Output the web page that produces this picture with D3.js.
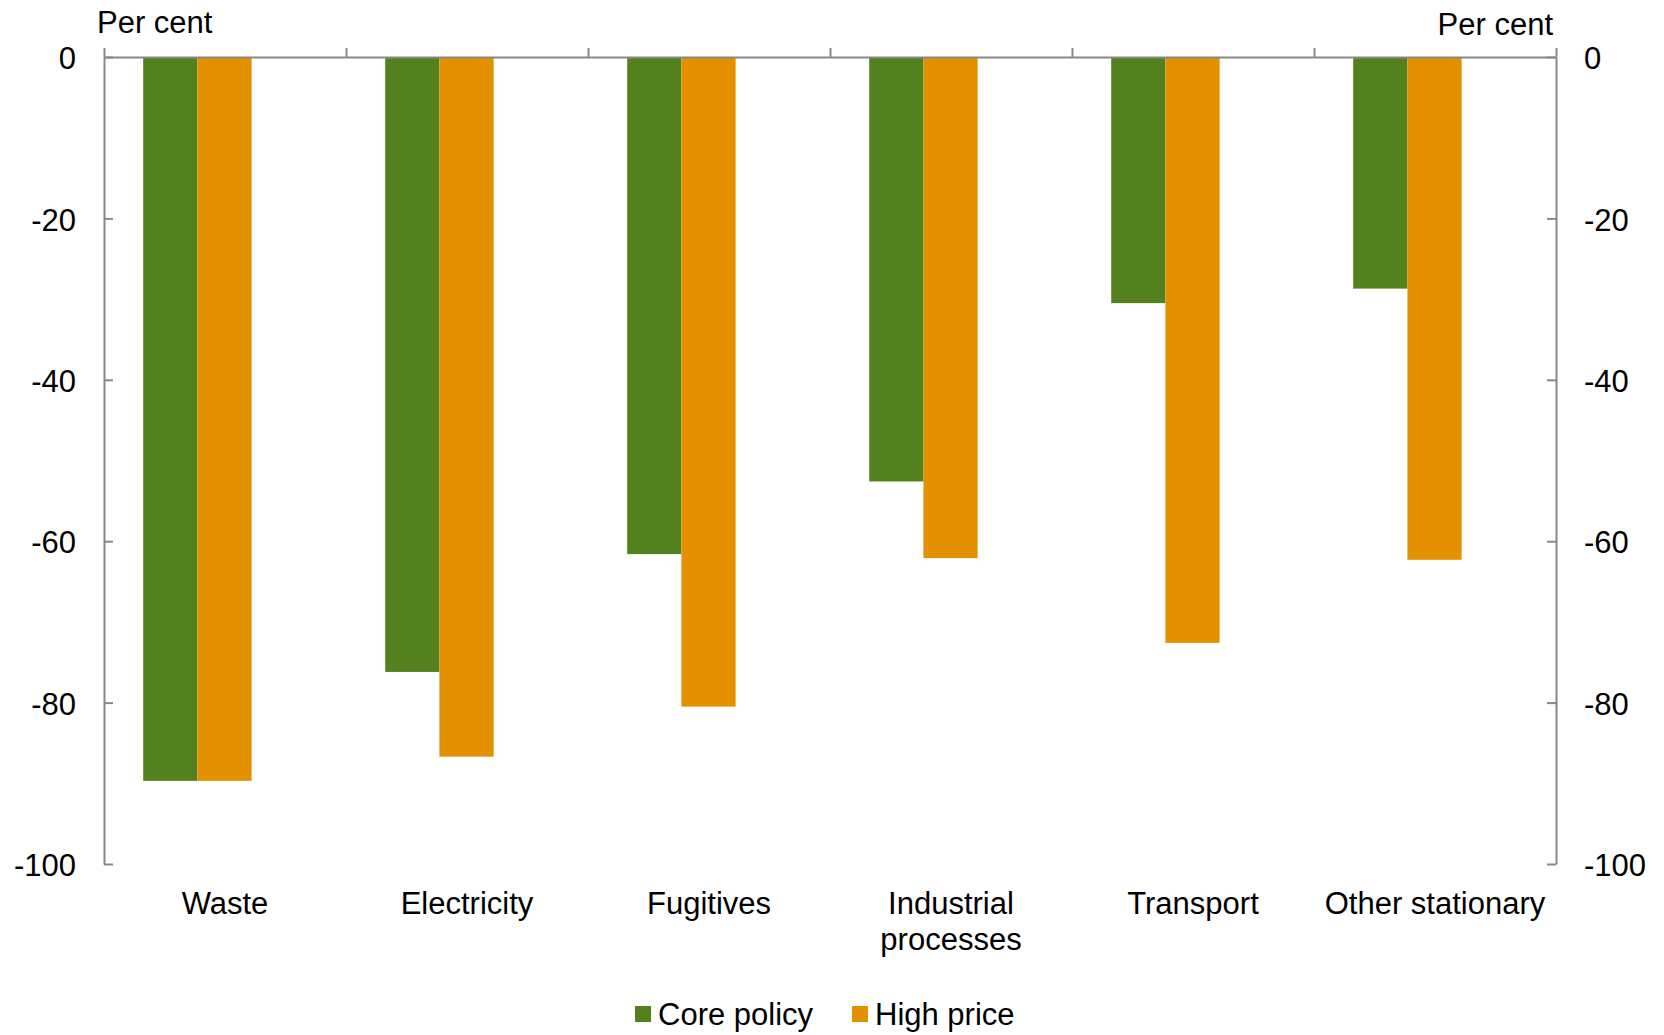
<!DOCTYPE html>
<html>
<head>
<meta charset="utf-8">
<script src="https://cdn.jsdelivr.net/npm/d3@7"></script>
<style>
  html, body { margin: 0; padding: 0; background: #fff; }
  svg { display: block; font-family: "Liberation Sans", Arial, sans-serif; }
</style>
</head>
<body>
<svg id="chart" width="1664" height="1035"></svg>
<script>
const categories = ["Waste", "Electricity", "Fugitives", "Industrial processes", "Transport", "Other stationary"];
const categoryLines = [["Waste"], ["Electricity"], ["Fugitives"], ["Industrial", "processes"], ["Transport"], ["Other stationary"]];
const seriesNames = ["Core policy", "High price"];
const corePolicy = [-89.7, -76.2, -61.6, -52.6, -30.5, -28.7];
const highPrice = [-89.7, -86.7, -80.5, -62.1, -72.6, -62.3];
const yTicks = [0, -20, -40, -60, -80, -100];
const colors = ["#53811e", "#e39100"];

(function () {
const svg = d3.select("#chart");
const plotLeft = 104, plotRight = 1556, plotTop = 57, plotBottom = 864;
const fontSize = 31;
const axisColor = "#888888";

const y = d3.scaleLinear().domain([-100, 0]).range([plotBottom, plotTop]);
const x0 = d3.scaleBand().domain(categories).range([plotLeft, plotRight]).padding(0);
const bw = x0.bandwidth();
const x1 = d3.scaleBand().domain(seriesNames).range([bw * 0.162, bw * 0.162 + bw * 0.448]).padding(0);

const data = categories.map((c, i) => ({ cat: c, vals: [corePolicy[i], highPrice[i]] }));

// Bars
const groups = svg.append("g").selectAll("g").data(data).join("g")
  .attr("transform", d => `translate(${x0(d.cat)},0)`);
groups.selectAll("rect")
  .data(d => d.vals.map((v, k) => ({ name: seriesNames[k], v, k })))
  .join("rect")
  .attr("x", d => x1(d.name))
  .attr("width", x1.bandwidth())
  .attr("y", d => y(0))
  .attr("height", d => y(d.v) - y(0))
  .attr("fill", d => colors[d.k]);

function styleAxis(g) {
  g.selectAll("path, line").attr("stroke", axisColor).attr("stroke-width", 2);
  g.selectAll("text").attr("fill", "#000").attr("font-size", fontSize).attr("dy", "0.38em")
    .attr("font-family", '"Liberation Sans", Arial, sans-serif');
}

const fmt = d => String(d);

// Left axis
svg.append("g").attr("transform", `translate(${plotLeft},0)`)
  .call(d3.axisLeft(y).tickValues(yTicks).tickSizeInner(-9).tickSizeOuter(0).tickPadding(28).tickFormat(fmt))
  .call(styleAxis);

// Right axis
svg.append("g").attr("transform", `translate(${plotRight},0)`)
  .call(d3.axisRight(y).tickValues(yTicks).tickSizeInner(-9).tickSizeOuter(0).tickPadding(28).tickFormat(fmt))
  .call(styleAxis);

// Category axis on zero line
const xb = d3.scaleLinear().domain([0, categories.length]).range([plotLeft, plotRight]);
svg.append("g").attr("transform", `translate(0,${y(0)})`)
  .call(d3.axisTop(xb).tickValues(d3.range(0, categories.length + 1)).tickSizeInner(9).tickSizeOuter(0).tickFormat(""))
  .call(styleAxis);

// Category labels
const labels = svg.append("g").selectAll("text").data(categories).join("text")
  .attr("x", d => x0(d) + bw / 2)
  .attr("y", 914)
  .attr("text-anchor", "middle")
  .attr("font-size", fontSize)
  .attr("fill", "#000");
labels.each(function(d, i) {
  d3.select(this).selectAll("tspan").data(categoryLines[i]).join("tspan")
    .attr("x", x0(d) + bw / 2)
    .attr("dy", (t, j) => j === 0 ? 0 : 36)
    .text(t => t);
});

// Axis titles
svg.append("text").attr("x", 97).attr("y", 33).attr("font-size", fontSize).attr("fill", "#000").text("Per cent");
svg.append("text").attr("x", 1553).attr("y", 35).attr("text-anchor", "end").attr("font-size", fontSize).attr("fill", "#000").text("Per cent");

// Legend
const legendX = [635, 852];
const legend = svg.append("g").selectAll("g").data(seriesNames).join("g")
  .attr("transform", (d, i) => `translate(${legendX[i]},0)`);
legend.append("rect").attr("x", 0).attr("y", 1006).attr("width", 16).attr("height", 16)
  .attr("fill", (d, i) => colors[i]);
legend.append("text").attr("x", 23).attr("y", 1025).attr("font-size", fontSize).attr("fill", "#000").text(d => d);
})();
</script>
</body>
</html>
